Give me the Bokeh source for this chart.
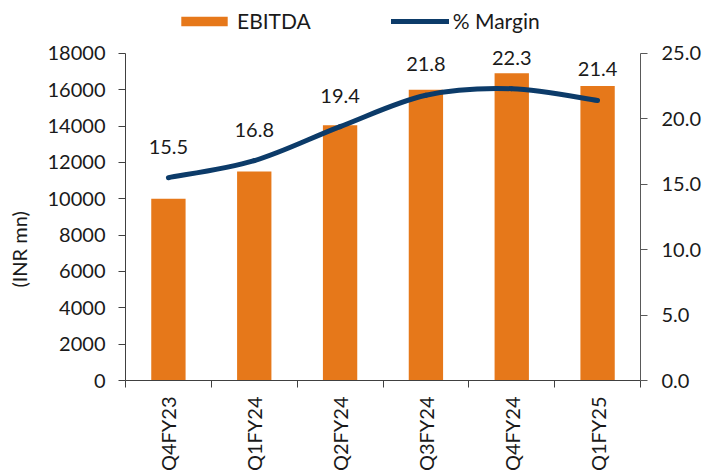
import numpy as np
from bokeh.plotting import figure
from bokeh.models import (Range1d, LinearAxis, FixedTicker, PrintfTickFormatter,
                          Legend, LegendItem)
from bokeh.core.properties import value
from bokeh.embed import file_html
from bokeh.resources import INLINE

categories = ["Q4FY23", "Q1FY24", "Q2FY24", "Q3FY24", "Q4FY24", "Q1FY25"]
ebitda = [10000, 11500, 14050, 16000, 16900, 16200]
margin = [15.5, 16.8, 19.4, 21.8, 22.3, 21.4]
left_ticks = [0, 2000, 4000, 6000, 8000, 10000, 12000, 14000, 16000, 18000]
right_ticks = [0, 5, 10, 15, 20, 25]
LEFT_MAX = 18000
RIGHT_MAX = 25

FONT = "Lato"
ORANGE = "#E6781A"
NAVY = "#0C3B69"
TXT = "#1a1a1a"

xs = list(range(len(categories)))

# frame spans the full height above the x axis; axes are bounded to their ranges
FRAME_TOP_PAD = 53.0 / 328.0   # extra headroom (fraction of axis length) for the legend
p = figure(width=705, height=474, output_backend="svg", toolbar_location=None,
           x_range=Range1d(-0.5, len(categories) - 0.5),
           y_range=Range1d(0, LEFT_MAX * (1 + FRAME_TOP_PAD)),
           min_border_left=125, min_border_right=65, min_border_top=0, min_border_bottom=93,
           x_axis_location=None, y_axis_location=None)
p.outline_line_color = None
p.grid.visible = False
p.extra_y_ranges = {"margin": Range1d(0, RIGHT_MAX * (1 + FRAME_TOP_PAD))}

bars = p.vbar(x=xs, top=ebitda, width=0.4, color=ORANGE, line_color=None)

# smooth curve through margin points (Catmull-Rom -> cubic bezier)
mx = np.array(xs, dtype=float)
my = np.array(margin, dtype=float)
px = np.concatenate([[mx[0]], mx, [mx[-1]]])
py = np.concatenate([[my[0]], my, [my[-1]]])
n = len(mx)
x0 = mx[:-1]; y0 = my[:-1]; x1 = mx[1:]; y1 = my[1:]
cx0 = x0 + (px[2:n+1] - px[0:n-1]) / 6.0
cy0 = y0 + (py[2:n+1] - py[0:n-1]) / 6.0
cx1 = x1 - (px[3:n+2] - px[1:n]) / 6.0
cy1 = y1 - (py[3:n+2] - py[1:n]) / 6.0
p.bezier(x0=x0, y0=y0, x1=x1, y1=y1, cx0=cx0, cy0=cy0, cx1=cx1, cy1=cy1,
         line_color=NAVY, line_width=5, line_cap="round", y_range_name="margin")
# legend proxy: a one-point line (draws nothing in the plot, only the legend swatch)
proxy = p.line(x=xs[:1], y=margin[:1], line_color=NAVY, line_width=5, line_cap="round",
               y_range_name="margin")

p.text(x=xs, y=margin, text=[f"{v:.1f}" for v in margin], y_range_name="margin",
       text_align="center", text_baseline="alphabetic", y_offset=-31,
       text_font=value(FONT), text_font_size="20px", text_color=TXT)

# axes
xaxis = LinearAxis(ticker=FixedTicker(ticks=xs, minor_ticks=[i - 0.5 for i in range(len(categories) + 1)]),
                   major_label_overrides={float(i): c for i, c in enumerate(categories)})
xaxis.major_label_orientation = np.pi / 2
xaxis.major_tick_line_color = None
xaxis.major_tick_out = 0
xaxis.major_tick_in = 0
xaxis.minor_tick_out = 7
xaxis.minor_tick_in = 0
xaxis.minor_tick_line_color = "#404040"
xaxis.axis_line_color = "#404040"
xaxis.major_label_standoff = 9
xaxis.major_label_text_font = FONT
xaxis.major_label_text_font_size = "20px"
xaxis.major_label_text_color = TXT
p.add_layout(xaxis, "below")

# trailing no-break spaces shift the centred label down to the middle of the bounded axis
yl = LinearAxis(ticker=FixedTicker(ticks=left_ticks), axis_label="(INR mn)" + "\u00a0" * 23,
                bounds=(0, LEFT_MAX))
yl.major_tick_out = 7
yl.major_tick_in = 0
yl.minor_tick_line_color = None
yl.axis_line_color = "#404040"
yl.major_tick_line_color = "#404040"
yl.major_label_standoff = 13
yl.major_label_text_font = FONT
yl.major_label_text_font_size = "20px"
yl.major_label_text_color = TXT
yl.axis_label_text_font = FONT
yl.axis_label_text_font_size = "20px"
yl.axis_label_text_font_style = "normal"
yl.axis_label_text_color = TXT
yl.axis_label_standoff = 14
p.add_layout(yl, "left")

yr = LinearAxis(y_range_name="margin", ticker=FixedTicker(ticks=right_ticks),
                formatter=PrintfTickFormatter(format="%.1f"), bounds=(0, RIGHT_MAX))
yr.major_tick_out = 7
yr.major_tick_in = 0
yr.minor_tick_line_color = None
yr.axis_line_color = "#595959"
yr.major_tick_line_color = "#595959"
yr.major_label_standoff = 14
yr.major_label_text_font = FONT
yr.major_label_text_font_size = "20px"
yr.major_label_text_color = TXT
p.add_layout(yr, "right")

legend = Legend(items=[LegendItem(label="EBITDA", renderers=[bars]),
                       LegendItem(label="% Margin", renderers=[proxy])],
                orientation="horizontal", location=(50, 347),
                glyph_width=58, glyph_height=12, label_standoff=4, spacing=80,
                padding=0, margin=0, border_line_color=None, background_fill_alpha=0,
                label_text_font=FONT, label_text_font_size="21px", label_text_color=TXT)
p.add_layout(legend, "center")

open("out.html", "w").write(file_html(p, INLINE))
